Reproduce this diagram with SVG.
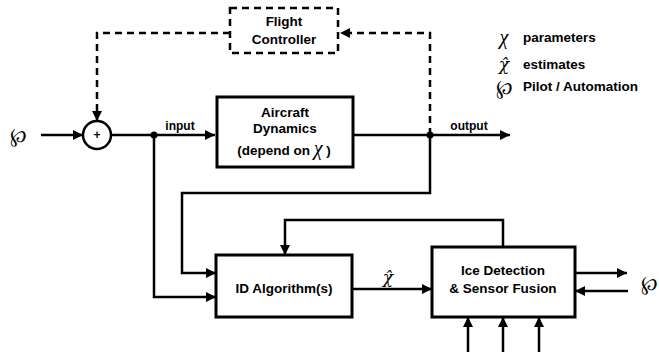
<svg xmlns="http://www.w3.org/2000/svg" width="659" height="352" viewBox="0 0 659 352">
<defs>
<marker id="ah" viewBox="0 0 10 10" refX="10" refY="5" markerWidth="10" markerHeight="10" markerUnits="userSpaceOnUse" orient="auto">
<path d="M0,0 L10,5 L0,10 z" fill="#000"/>
</marker>
</defs>
<style>
.box{fill:#fff;stroke:#000;stroke-width:3}
.dbox{fill:#fff;stroke:#000;stroke-width:2.5;stroke-dasharray:7,5}
.ln{fill:none;stroke:#000;stroke-width:2.5}
.dl{fill:none;stroke:#000;stroke-width:2.5;stroke-dasharray:7,5}
.t{font-family:"Liberation Sans",Arial,sans-serif;font-weight:bold;font-size:13.5px;fill:#000}
.s{font-family:"Liberation Sans",Arial,sans-serif;font-weight:bold;font-size:12px;fill:#000}
.g{font-family:"Liberation Serif","DejaVu Serif",serif;font-style:italic;font-size:20px;fill:#000}
.gh{font-family:"DejaVu Serif",serif;font-style:italic;font-size:17px;fill:#000}
.p{font-family:"DejaVu Serif",serif;font-size:20px;fill:#000}
</style>
<rect width="659" height="352" fill="#fff"/>
<g id="connectors">
<line class="ln" x1="41" y1="135" x2="83" y2="135" marker-end="url(#ah)"/>
<line class="ln" x1="111" y1="135" x2="215" y2="135" marker-end="url(#ah)"/>
<polyline class="dl" points="230,33 97,33 97,121" marker-end="url(#ah)"/>
<polyline class="dl" points="430,135 430,33 340,33" marker-end="url(#ah)"/>
<line class="ln" x1="353" y1="135" x2="510" y2="135" marker-end="url(#ah)"/>
<circle cx="154" cy="135" r="3.5" fill="#000"/>
<circle cx="430" cy="135" r="3.5" fill="#000"/>
<polyline class="ln" points="154,135 154,297 216,297" marker-end="url(#ah)"/>
<polyline class="ln" points="430,135 430,193 182,193 182,273 216,273" marker-end="url(#ah)"/>
<line class="ln" x1="352" y1="289" x2="432" y2="289" marker-end="url(#ah)"/>
<polyline class="ln" points="503,247 503,220 285,220 285,255" marker-end="url(#ah)"/>
<line class="ln" x1="575" y1="273" x2="627" y2="273" marker-end="url(#ah)"/>
<line class="ln" x1="628" y1="291" x2="575" y2="291" marker-end="url(#ah)"/>
<line class="ln" x1="468" y1="352" x2="468" y2="317" marker-end="url(#ah)"/>
<line class="ln" x1="503" y1="352" x2="503" y2="317" marker-end="url(#ah)"/>
<line class="ln" x1="539" y1="352" x2="539" y2="317" marker-end="url(#ah)"/>
</g>
<g id="sum">
<circle cx="97" cy="135" r="14" fill="#fff" stroke="#000" stroke-width="2.5"/>
<text class="s" x="97" y="139" text-anchor="middle">+</text>
</g>
<g id="flight-controller">
<rect class="dbox" x="230" y="8" width="108" height="45"/>
<text class="t" x="284" y="26" text-anchor="middle">Flight</text>
<text class="t" x="284" y="44" text-anchor="middle">Controller</text>
</g>
<g id="aircraft">
<rect class="box" x="217" y="97" width="136" height="70"/>
<text class="t" x="285" y="117" text-anchor="middle">Aircraft</text>
<text class="t" x="285" y="133" text-anchor="middle">Dynamics</text>
<text class="t" x="284" y="155" text-anchor="middle">(depend on <tspan class="g" font-weight="normal">χ</tspan> )</text>
</g>
<g id="id-algorithm">
<rect class="box" x="216" y="255" width="136" height="62"/>
<text class="t" x="284" y="293" text-anchor="middle">ID Algorithm(s)</text>
</g>
<g id="ice-detection">
<rect class="box" x="432" y="247" width="143" height="70"/>
<text class="t" x="503" y="275" text-anchor="middle">Ice Detection</text>
<text class="t" x="503" y="293" text-anchor="middle">&amp; Sensor Fusion</text>
</g>
<g id="labels">
<text class="p" x="18" y="142" text-anchor="middle">℘</text>
<text class="s" x="180" y="130" text-anchor="middle">input</text>
<text class="s" x="469" y="130" text-anchor="middle">output</text>
<text class="gh" x="388" y="283" text-anchor="middle">χ̂</text>
<text class="p" x="649" y="290" text-anchor="middle">℘</text>
</g>
<g id="legend">
<text class="g" x="504" y="44" text-anchor="middle">χ</text>
<text class="t" x="523" y="42">parameters</text>
<text class="gh" x="504" y="70" text-anchor="middle">χ̂</text>
<text class="t" x="523" y="69">estimates</text>
<text class="p" x="504" y="94" text-anchor="middle">℘</text>
<text class="t" x="523" y="91">Pilot / Automation</text>
</g>
</svg>
